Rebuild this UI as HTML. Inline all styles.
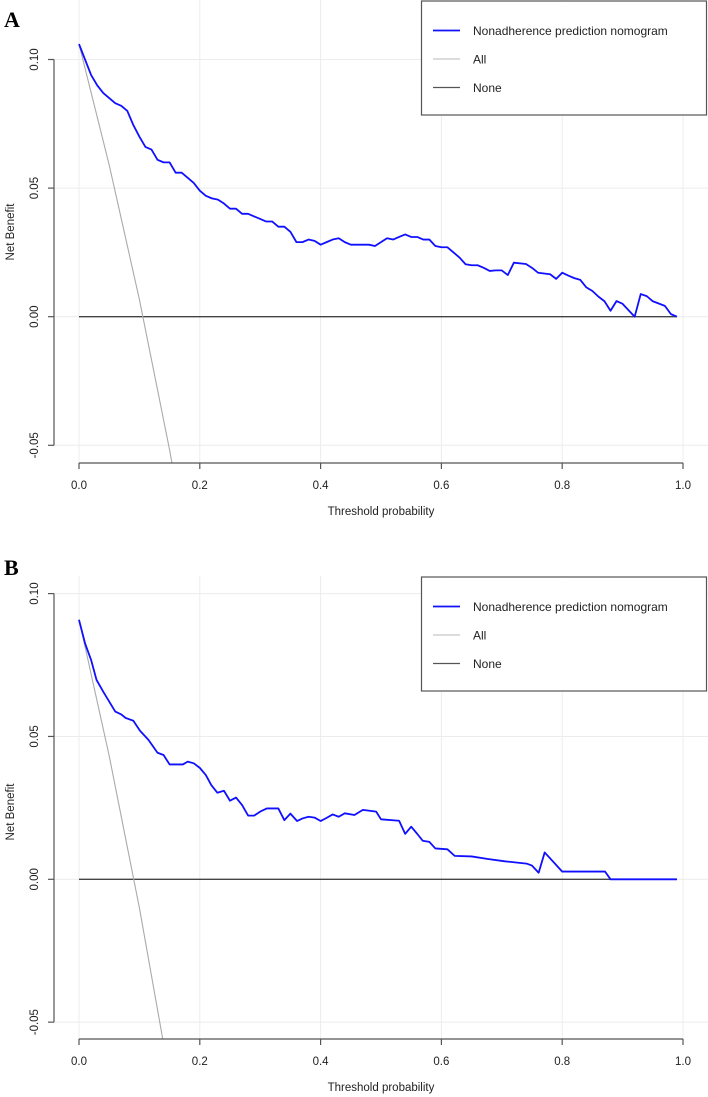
<!DOCTYPE html>
<html><head><meta charset="utf-8"><style>
html,body{margin:0;padding:0;background:#fff;overflow:hidden;}
svg{display:block;font-family:"Liberation Sans",Arial,sans-serif;}
</style></head><body>
<svg id="chart" width="708" height="1097" viewBox="0 0 708 1097" xmlns="http://www.w3.org/2000/svg"></svg>
<script>
const xTicks = [0, 0.2, 0.4, 0.6, 0.8, 1.0];
const xTickLabels = ["0.0", "0.2", "0.4", "0.6", "0.8", "1.0"];
const yTicks = [0.10, 0.05, 0.00, -0.05];
const yTickLabels = ["0.10", "0.05", "0.00", "-0.05"];
const legendLabels = ["Nonadherence prediction nomogram", "All", "None"];

const thresholdsA = [0,0.01,0.02,0.03,0.04,0.06,0.07,0.08,0.09,0.10,0.11,0.12,0.13,0.14,0.15,0.16,0.17,0.18,0.19,0.20,0.21,0.22,0.23,0.24,0.25,0.26,0.27,0.28,0.29,0.30,0.31,0.32,0.33,0.34,0.35,0.36,0.37,0.38,0.39,0.40,0.41,0.42,0.43,0.44,0.45,0.46,0.47,0.48,0.49,0.50,0.51,0.52,0.53,0.54,0.55,0.56,0.57,0.58,0.59,0.60,0.61,0.62,0.63,0.64,0.65,0.66,0.67,0.68,0.69,0.70,0.71,0.72,0.74,0.75,0.76,0.78,0.79,0.80,0.81,0.82,0.83,0.84,0.85,0.86,0.87,0.88,0.89,0.90,0.92,0.93,0.94,0.95,0.97,0.98,0.99];
const modelA = [0.106,0.100,0.094,0.090,0.087,0.083,0.082,0.080,0.0745,0.070,0.066,0.065,0.061,0.060,0.060,0.056,0.056,0.054,0.052,0.049,0.047,0.046,0.0455,0.044,0.042,0.042,0.040,0.040,0.039,0.038,0.037,0.037,0.035,0.035,0.033,0.029,0.029,0.030,0.0295,0.028,0.029,0.030,0.0305,0.029,0.028,0.028,0.028,0.028,0.0275,0.029,0.0305,0.030,0.031,0.032,0.031,0.031,0.030,0.030,0.0275,0.027,0.027,0.025,0.023,0.0204,0.020,0.020,0.019,0.0178,0.018,0.018,0.0162,0.021,0.0205,0.019,0.0171,0.0165,0.0147,0.0171,0.016,0.015,0.0143,0.0114,0.010,0.0078,0.006,0.0023,0.0061,0.005,0.000,0.0088,0.008,0.006,0.0042,0.001,0.000];
const allThresholdsA = [0, 0.05, 0.10, 0.15, 0.20];
const allA = [0.106, 0.059, 0.0067, -0.0518, -0.1175];

const thresholdsB = [0,0.01,0.02,0.029,0.04,0.06,0.07,0.077,0.09,0.101,0.115,0.13,0.14,0.15,0.172,0.18,0.19,0.20,0.21,0.219,0.229,0.24,0.25,0.26,0.27,0.28,0.29,0.30,0.311,0.33,0.34,0.35,0.361,0.37,0.38,0.39,0.40,0.41,0.42,0.43,0.44,0.456,0.47,0.492,0.50,0.53,0.54,0.55,0.56,0.569,0.58,0.59,0.61,0.622,0.65,0.677,0.705,0.741,0.75,0.761,0.771,0.788,0.80,0.871,0.88,0.99];
const modelB = [0.0908,0.0826,0.0768,0.0698,0.0657,0.0587,0.0577,0.0565,0.0555,0.052,0.0488,0.0443,0.0435,0.0402,0.0402,0.0412,0.0406,0.039,0.0365,0.033,0.0303,0.031,0.0275,0.0286,0.026,0.0223,0.0223,0.0237,0.0248,0.0248,0.0207,0.023,0.0204,0.0213,0.0219,0.0216,0.0204,0.0215,0.0227,0.0219,0.0231,0.0225,0.0243,0.0237,0.021,0.0205,0.0159,0.0184,0.0159,0.0135,0.0131,0.0108,0.0105,0.0082,0.0080,0.0071,0.0063,0.0055,0.0048,0.0023,0.0094,0.0055,0.0027,0.0027,0.0,0.0];
const allThresholdsB = [0, 0.05, 0.10, 0.15, 0.20];
const allB = [0.091, 0.0432, -0.010, -0.0694, -0.136];

const NS = "http://www.w3.org/2000/svg";
const svg = document.getElementById("chart");
function mk(tag, attrs, parent){ const e=document.createElementNS(NS,tag); for(const k in attrs) e.setAttribute(k,attrs[k]); (parent||svg).appendChild(e); return e; }

function panel(cfg){
  const g = mk("g",{});
  
  
  const xS = v => 79 + v*604;
  const yS = v => cfg.y0 - v*cfg.k;
  const top = cfg.top, xAxisY = cfg.xAxisY;
  xTicks.forEach(t=>{ const l=mk("line",{x1:xS(t),x2:xS(t),y1:top,y2:xAxisY,stroke:"#ececec","stroke-width":1},g);
      });
  yTicks.forEach(t=>{ const l=mk("line",{x1:54,x2:708,y1:yS(t),y2:yS(t),stroke:"#ececec","stroke-width":1},g);
      });
  const cid = cfg.name+"-clip";
  const cp = mk("clipPath",{id:cid},g); mk("rect",{x:54,y:top,width:654,height:xAxisY-top},cp);
  const none = mk("line",{x1:xS(0),x2:xS(0.99),y1:yS(0),y2:yS(0),stroke:"#444","stroke-width":1.4},g);
   
  const allPts = cfg.allT.map((t,i)=>xS(t)+","+yS(cfg.allV[i])).join(" ");
  const all = mk("polyline",{points:allPts,fill:"none",stroke:"#aaaaaa","stroke-width":1.1,"clip-path":"url(#"+cid+")"},g);
   
  const mPts = cfg.mT.map((t,i)=>xS(t)+","+yS(cfg.mV[i])).join(" ");
  const m = mk("polyline",{points:mPts,fill:"none",stroke:"#1010ff","stroke-width":1.8,"stroke-linejoin":"round"},g);
   
  const ya = mk("line",{x1:54,x2:54,y1:yS(yTicks[0]),y2:yS(yTicks[yTicks.length-1]),stroke:"#555","stroke-width":1.2},g);
   
  yTicks.forEach((t,i)=>{
    mk("line",{x1:48,x2:54,y1:yS(t),y2:yS(t),stroke:"#555","stroke-width":1.2},g);
    const tx = mk("text",{x:0,y:0,transform:"translate(38,"+yS(t)+") rotate(-90)","text-anchor":"middle","font-size":11.5,fill:"#222"},g);
    tx.textContent = yTickLabels[i];
     
  });
  const yt = mk("text",{transform:"translate(14,"+cfg.yTitleY+") rotate(-90)","text-anchor":"middle","font-size":11.5,fill:"#222"},g);
  yt.textContent="Net Benefit";  
  const xa = mk("line",{x1:xS(0),x2:xS(1),y1:xAxisY,y2:xAxisY,stroke:"#555","stroke-width":1.2},g);
   
  xTicks.forEach((t,i)=>{
    mk("line",{x1:xS(t),x2:xS(t),y1:xAxisY,y2:xAxisY+6,stroke:"#555","stroke-width":1.2},g);
    const tx = mk("text",{x:xS(t),y:xAxisY+26,"text-anchor":"middle","font-size":11.5,fill:"#222"},g);
    tx.textContent = xTickLabels[i];
     
  });
  const xt = mk("text",{x:xS(0.5),y:xAxisY+52,"text-anchor":"middle","font-size":11.5,fill:"#222"},g);
  xt.textContent="Threshold probability";  
  const pl = mk("text",{x:4,y:cfg.labelY,"font-size":22,"font-weight":"bold","font-family":"Liberation Serif, serif",fill:"#000"},g);
  pl.textContent=cfg.letter;  
  const lg = mk("g",{},g);  
  mk("rect",{x:421.5,y:cfg.legTop,width:285,height:114,fill:"#fff",stroke:"#555","stroke-width":1.2},lg);
  const cols=["#1010ff","#c8c8c8","#555"];
  legendLabels.forEach((lab,i)=>{
    const yy = cfg.legTop+29.5+i*28.5;
    const e = mk("g",{},lg);  
    mk("line",{x1:433,x2:460,y1:yy,y2:yy,stroke:cols[i],"stroke-width":i==0?1.8:1.2},e);
    const tx = mk("text",{x:473,y:yy+4.5,"font-size":12,fill:"#222"},e); tx.textContent=lab;
  });
}
panel({name:"panel-a",letter:"A",labelY:27,top:0,xAxisY:463,y0:316.7,k:2572,yTitleY:232,allT:allThresholdsA,allV:allA,mT:thresholdsA,mV:modelA,legTop:1});
panel({name:"panel-b",letter:"B",labelY:575,top:576,xAxisY:1039,y0:879.3,k:2857,yTitleY:812,allT:allThresholdsB,allV:allB,mT:thresholdsB,mV:modelB,legTop:577});
</script>
</body></html>
